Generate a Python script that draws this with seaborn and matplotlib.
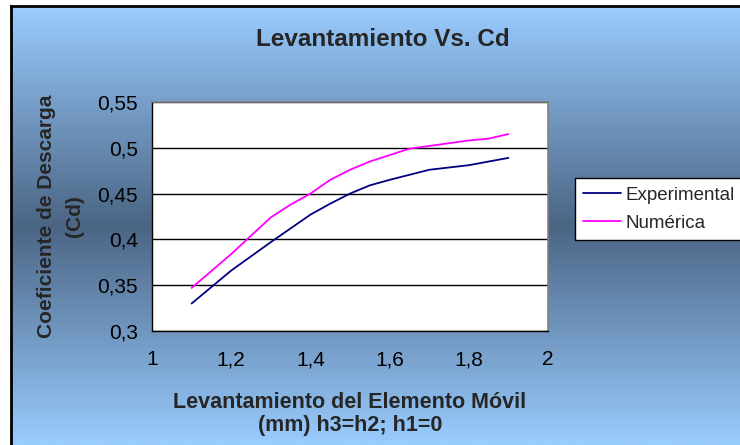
"""
Levantamiento vs. coeficiente de descarga (Cd): experimental vs. numérica
"""
import numpy as np
import pandas as pd
import matplotlib
matplotlib.use('Agg')
import matplotlib.pyplot as plt
from matplotlib.colors import LinearSegmentedColormap
from matplotlib.ticker import FuncFormatter, MultipleLocator
import seaborn as sns

# datos
lev_exp = [1.1, 1.2, 1.3, 1.35, 1.4, 1.45, 1.5, 1.55, 1.6, 1.7, 1.8, 1.9]
cd_exp = [0.330, 0.366, 0.397, 0.412, 0.427, 0.439, 0.450, 0.459, 0.465, 0.476, 0.481, 0.489]

lev_num = [1.1, 1.2, 1.3, 1.35, 1.4, 1.45, 1.5, 1.55, 1.6, 1.65, 1.7, 1.8, 1.85, 1.9]
cd_num = [0.347, 0.384, 0.424, 0.438, 0.450, 0.465, 0.476, 0.485, 0.492, 0.499, 0.502, 0.508, 0.510, 0.515]

series_names = ['Experimental', 'Numérica']
series_colors = ['#000080', '#FF00FF']

titulo = 'Levantamiento Vs. Cd'
etiqueta_x = 'Levantamiento del Elemento Móvil\n(mm) h3=h2; h1=0'
etiqueta_y = 'Coeficiente de Descarga\n(Cd)'

df = pd.concat([
    pd.DataFrame({'lev': lev_exp, 'cd': cd_exp, 'serie': series_names[0]}),
    pd.DataFrame({'lev': lev_num, 'cd': cd_num, 'serie': series_names[1]}),
], ignore_index=True)

sns.set_theme(style='white')
plt.rcParams['font.family'] = ['Liberation Sans', 'DejaVu Sans']

W, H = 740, 445
fig = plt.figure(figsize=(W / 100, H / 100), dpi=100)
fig.patch.set_facecolor('white')

# fondo degradado estilo Excel
x0, y1 = 11 / W, 1 - 6 / H
bg = fig.add_axes([x0, 0, 1 - x0, y1], zorder=0)
cmap = LinearSegmentedColormap.from_list(
    'fondo', [(0, '#99CCFF'), (0.5, '#4B6584'), (1, '#99CCFF')])
grad = np.linspace(0, 1, 256).reshape(-1, 1)
bg.imshow(grad, aspect='auto', cmap=cmap, extent=[0, 1, 0, 1], origin='upper')
bg.set_xticks([])
bg.set_yticks([])
for s in ['right', 'bottom']:
    bg.spines[s].set_visible(False)
for s in ['left', 'top']:
    bg.spines[s].set_color('black')
    bg.spines[s].set_linewidth(2)

ax = fig.add_axes([152 / W, 1 - 331 / H, 396 / W, (331 - 102) / H], zorder=1)
ax.set_facecolor('white')

sns.lineplot(data=df, x='lev', y='cd', hue='serie', palette=series_colors,
             linewidth=1.3, ax=ax, sort=False)

ax.set_xlim(1, 2)
ax.set_ylim(0.3, 0.55)
ax.xaxis.set_major_locator(MultipleLocator(0.2))
ax.yaxis.set_major_locator(MultipleLocator(0.05))
fmt = FuncFormatter(lambda v, p: f'{v:.2f}'.rstrip('0').rstrip('.').replace('.', ','))
ax.xaxis.set_major_formatter(fmt)
ax.yaxis.set_major_formatter(fmt)
ax.tick_params(axis='both', direction='out', length=5, width=1, color='black',
               labelsize=15, labelcolor='black')
ax.tick_params(axis='x', pad=9)
ax.tick_params(axis='y', pad=5)
ax.grid(axis='y', color='black', linewidth=1)
ax.grid(axis='x', visible=False)
for s in ['left', 'bottom']:
    ax.spines[s].set_color('black')
    ax.spines[s].set_linewidth(1)
for s in ['top', 'right']:
    ax.spines[s].set_color('#808080')
    ax.spines[s].set_linewidth(1.2)

ax.set_xlabel(etiqueta_x, fontsize=15.5, fontweight='bold', labelpad=16, linespacing=1.15)
ax.set_ylabel(etiqueta_y, fontsize=15, fontweight='bold', labelpad=10, linespacing=1.6)
fig.text(383 / W, 1 - 40 / H, titulo, fontsize=17.5, fontweight='bold',
         ha='center', va='center')

handles, labels = ax.get_legend_handles_labels()
ax.get_legend().remove()
leg = fig.legend(handles, labels, loc='upper left',
                 bbox_to_anchor=(575 / W, 1 - 178 / H), frameon=True,
                 fancybox=False, edgecolor='black', framealpha=1,
                 fontsize=13.5, handlelength=2.0, handletextpad=0.25,
                 borderpad=0.45, labelspacing=0.6, borderaxespad=0)
leg.get_frame().set_linewidth(1)

fig.savefig('out.png', dpi=100)
